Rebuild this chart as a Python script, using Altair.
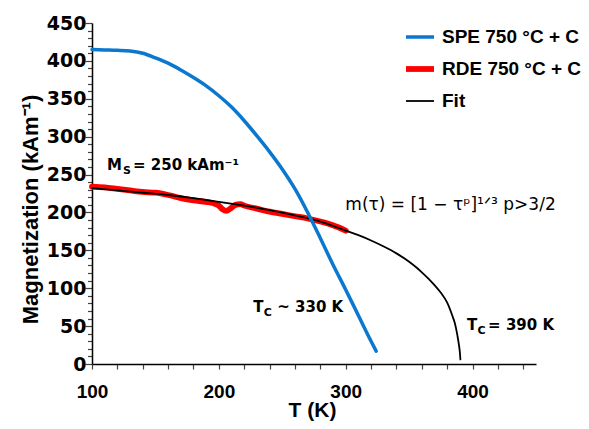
import altair as alt
import pandas as pd

# ---- data ----
spe_T = [100, 110, 120, 130, 140, 150, 160, 170, 180, 190, 200, 210, 220, 230, 240, 250, 260, 270, 280, 290, 300, 310, 320, 324]
spe_M = [415, 414.5, 414, 413, 410, 404, 397, 388, 378, 367, 354, 339, 321, 301, 280, 257, 231, 200, 166, 131, 98, 64, 30, 17]

rde_T = [100, 110, 120, 130, 140, 150, 160, 170, 180, 190, 196, 200, 203, 206, 209, 213, 217, 220, 230, 240, 250, 260, 270, 280, 290, 300]
rde_M = [234, 233, 231, 229, 227, 226, 223, 219, 216, 214, 212, 209, 204, 202, 205, 210, 211, 209, 205, 201, 198, 195, 192, 188, 183, 176]

fit_T = [100, 120, 140, 160, 180, 200, 220, 240, 260, 280, 300, 310, 320, 330, 340, 350, 356, 360, 365, 370, 375, 380, 384, 386, 388, 389, 390, 390.4]
fit_M = [232, 229, 226, 223, 219, 214, 209, 203, 196, 188, 176, 170, 163, 155, 146, 135, 127, 121, 113, 104, 94, 81, 64, 54, 38, 28, 15, 6]

series_names = ["SPE 750 °C + C", "RDE 750 °C + C", "Fit"]
series_colors = ["#0b78d0", "#ff0000", "#000000"]
series_widths = [3.5, 5.8, 1.8]

x_ticks = list(range(100, 441, 20))
y_ticks = list(range(0, 451, 10))

# annotation anchors (data units) and pixel offsets of their pieces
ann_text = ["M", "S", "= 250 kAm⁻¹",
            "T", "C", "~ 330 K",
            "T", "C", "= 390 K"]
ann_T = [111.8, 111.8, 111.8, 227.1, 227.1, 227.1, 395.7, 395.7, 395.7]
ann_M = [255.8, 255.8, 255.8, 69, 69, 69, 44.8, 44.8, 44.8]
ann_dx = [0, 16, 26, 0, 10.5, 24, 0, 10.5, 21]
ann_dy = [0, 4, 0, 0, 4, 0, 0, 4, 0]
ann_size = [15, 11, 15, 15, 11, 15, 15, 11, 15]

formula_text = ["m(τ) = [1 − τᵖ]¹ᐟ³  p>3/2"]
formula_T = [299.7]
formula_M = [203]

rows = []
for name, Ts, Ms in zip(series_names, [spe_T, rde_T, fit_T], [spe_M, rde_M, fit_M]):
    for i, (t, m) in enumerate(zip(Ts, Ms)):
        rows.append({"series": name, "T": t, "M": m, "i": i})
df = pd.DataFrame(rows)

ann_df = pd.DataFrame({"text": ann_text, "T": ann_T, "M": ann_M})
form_df = pd.DataFrame({"text": formula_text, "T": formula_T, "M": formula_M})

xscale = alt.Scale(domain=[100, 450], nice=False, zero=False)
yscale = alt.Scale(domain=[0, 450], nice=False)

xaxis = alt.Axis(
    values=x_ticks,
    labelExpr="datum.value % 100 == 0 ? datum.label : ''",
    labelOverlap=False, labelFlush=False,
    format="d", title="T (K)", tickSize=5, labelPadding=13,
    labelFont="Liberation Sans", labelFontSize=19, labelFontWeight="bold",
    titleFont="Liberation Sans", titleFontSize=21, titleFontWeight="bold",
    titleX=220, titleY=46, titleBaseline="middle", titleAlign="center",
)
yaxis = alt.Axis(
    values=y_ticks,
    labelExpr="datum.value % 50 == 0 ? datum.label : ''",
    labelOverlap=False, labelFlush=False,
    format="d", title="Magnetization (kAm⁻¹)",
    tickSize={"condition": {"test": "datum.value % 50 == 0", "value": 7}, "value": 4.5},
    labelPadding=-1,
    labelFont="DejaVu Sans", labelFontSize=19, labelFontWeight="bold",
    titleFont="Liberation Sans", titleFontSize=22, titleFontWeight="bold",
    titleX=-62, titleY=186, titleBaseline="middle", titleAlign="center", titleAngle=270,
)

X = alt.X("T:Q", scale=xscale, axis=xaxis)
Y = alt.Y("M:Q", scale=yscale, axis=yaxis)

leg = dict(
    title=None, orient="none", legendX=311, legendY=-2,
    symbolType="stroke", symbolSize=784,
    labelFont="Liberation Sans", labelFontSize=19, labelFontWeight="bold",
    labelOffset=5, rowPadding=5, padding=0, labelColor="#000",
)
color = alt.Color("series:N", scale=alt.Scale(domain=series_names, range=series_colors),
                  legend=alt.Legend(**leg))
sw = alt.StrokeWidth("series:N",
                     scale=alt.Scale(type="ordinal", domain=series_names, range=series_widths),
                     legend=alt.Legend(**leg))


def line_layer(name):
    return alt.Chart(df).transform_filter(alt.datum.series == name).mark_line(
        strokeCap="round", strokeJoin="round", interpolate="monotone"
    ).encode(x=X, y=Y, color=color, strokeWidth=sw, order="i:Q")


lines = [line_layer(series_names[1]), line_layer(series_names[2]), line_layer(series_names[0])]

ann_layers = []
for k in range(len(ann_text)):
    ann_layers.append(
        alt.Chart(ann_df.iloc[[k]]).mark_text(
            align="left", baseline="alphabetic", font="DejaVu Sans", fontWeight="bold",
            fontSize=ann_size[k], dx=ann_dx[k], dy=ann_dy[k], color="#000",
        ).encode(x=X, y=Y, text="text:N")
    )

formula = alt.Chart(form_df).mark_text(
    align="left", baseline="alphabetic", font="DejaVu Sans", fontSize=17,
    fontStyle="normal", color="#000",
).encode(x=X, y=Y, text="text:N")

chart = alt.layer(*lines, *ann_layers, formula).properties(
    width=444, height=341,
    autosize=alt.AutoSizeParams(type="none"),
    padding={"left": 84, "top": 15, "right": 45, "bottom": 57},
).configure_view(stroke=None).configure_axis(
    grid=False, domainColor="#000", domainWidth=1.5, tickColor="#444",
    tickWidth=1.2, labelColor="#000", titleColor="#000",
)

chart.save("out.html", embed_options={"renderer": "svg", "actions": False})
